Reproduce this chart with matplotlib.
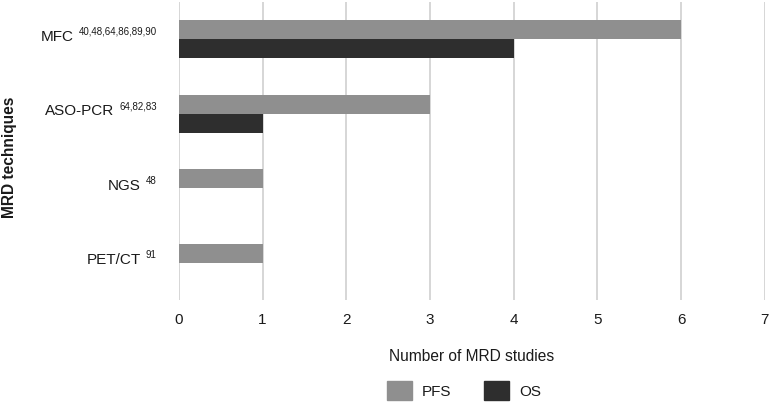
import numpy as np
import matplotlib
matplotlib.use("Agg")
import matplotlib.pyplot as plt
from matplotlib.patches import Patch

plt.rcParams['font.family'] = ['Liberation Sans', 'DejaVu Sans']

# data
techniques = ['MFC', 'ASO-PCR', 'NGS', 'PET/CT']
refs = ['40,48,64,86,89,90', '64,82,83', '48', '91']
pfs = [6, 3, 1, 1]
os_ = [4, 1, 0, 0]

pfs_color = '#8f8f8f'
os_color = '#2e2e2e'
text_color = '#1a1a1a'

fig = plt.figure(figsize=(7.71, 4.05), dpi=100)
ax = fig.add_axes([0.232, 0.259, 0.760, 0.736])

y = np.arange(len(techniques))
h = 0.255
ax.barh(y - h / 2, pfs, height=h, color=pfs_color, label='PFS', zorder=3)
ax.barh(y + h / 2, os_, height=h, color=os_color, label='OS', zorder=3)

ax.set_xlim(0, 7)
ax.set_ylim(3.5, -0.5)
ax.set_xticks(range(0, 8))
ax.tick_params(axis='x', length=0, pad=9, labelsize=11, colors=text_color)
ax.tick_params(axis='y', length=0)
ax.set_yticks(y)
ax.set_yticklabels([])
ax.grid(axis='x', color='#d0d0d0', linewidth=1.2, zorder=0)
for s in ax.spines.values():
    s.set_visible(False)

# category labels with superscript references
fig.canvas.draw()
r = fig.canvas.get_renderer()
for yi, name, ref in zip(y, techniques, refs):
    sup = ax.annotate(ref, xy=(0, yi), xycoords='data', xytext=(-16, 3.2),
                      textcoords='offset points', ha='right', va='baseline',
                      fontsize=7, color=text_color)
    w = sup.get_window_extent(r).width * 72 / fig.dpi
    ax.annotate(name, xy=(0, yi), xycoords='data', xytext=(-16 - w - 3.5, -1),
                textcoords='offset points', ha='right', va='baseline',
                fontsize=11, color=text_color)

ax.set_xlabel('Number of MRD studies', fontsize=11.2, color=text_color, labelpad=16)
fig.text(0.012, 0.612, 'MRD techniques', rotation=90, fontsize=11.2,
         fontweight='bold', ha='center', va='center', color=text_color)

handles = [Patch(color=pfs_color, label='PFS'), Patch(color=os_color, label='OS')]
fig.legend(handles=handles, loc='center', bbox_to_anchor=(0.602, 0.035), ncol=2,
           frameon=False, fontsize=11, handlelength=1.63, handleheight=1.57,
           columnspacing=2.15, handletextpad=0.65, labelcolor=text_color)

fig.savefig('out.png', dpi=100)
